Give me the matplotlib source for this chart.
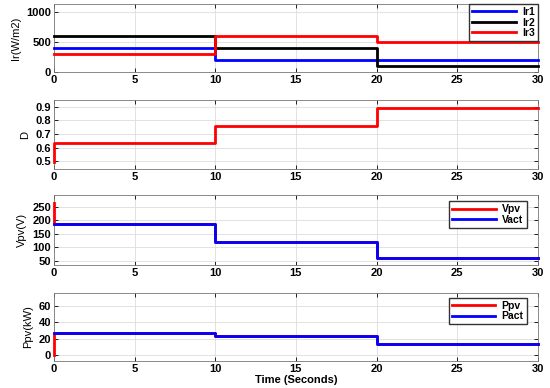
import numpy as np
import matplotlib.pyplot as plt

plt.rcParams['font.family'] = ['Liberation Sans', 'DejaVu Sans']

# time breakpoints (s)
t = [0, 10, 20, 30]
ir1 = [400, 200, 200, 200]
ir2 = [600, 400, 100, 100]
ir3 = [300, 600, 500, 500]

t_start = [0, 0, 10, 20, 30]
duty = [0.49, 0.63, 0.76, 0.89, 0.89]
vpv = [265, 185, 120, 60, 60]
vact = [185, 185, 120, 60, 60]
ppv = [0, 27.3, 23.2, 13.5, 13.5]
pact = [27.3, 27.3, 23.2, 13.5, 13.5]

fig = plt.figure(figsize=(5.5, 3.88), dpi=100)
L, W = 0.098, 0.880
boxes = [(0.814, 0.990), (0.564, 0.742), (0.317, 0.497), (0.070, 0.245)]
axs = [fig.add_axes([L, b, W, tp - b]) for b, tp in boxes]

leg_kw = dict(prop={'size': 7.5, 'weight': 'bold'}, fancybox=False, edgecolor='#333333',
              framealpha=1, handlelength=4.2, labelspacing=0.05, borderpad=0.3,
              handletextpad=0.6)
line_kw = dict(lw=2, drawstyle='steps-post', clip_on=False, zorder=3)

ax = axs[0]
ax.plot(t, ir1, color='blue', label='Ir1', **line_kw)
ax.plot(t, ir2, color='black', label='Ir2', **line_kw)
ax.plot(t, ir3, color='red', label='Ir3', **line_kw)
ax.set_ylim(0, 1130)
ax.set_yticks([0, 500, 1000])
ax.set_ylabel('Ir(W/m2)', fontsize=8)
ax.legend(loc='upper right', borderaxespad=0, **leg_kw).set_zorder(5)

ax = axs[1]
ax.plot(t_start, duty, color='red', **line_kw)
ax.set_ylim(0.44, 0.95)
ax.set_yticks([0.5, 0.6, 0.7, 0.8, 0.9])
ax.set_ylabel('D', fontsize=8)

ax = axs[2]
ax.plot(t_start, vpv, color='red', label='Vpv', **line_kw)
ax.plot(t_start, vact, color='blue', label='Vact', **line_kw)
ax.set_ylim(34, 293)
ax.set_yticks([50, 100, 150, 200, 250])
ax.set_ylabel('Vpv(V)', fontsize=8)
ax.legend(loc='upper right', bbox_to_anchor=(0.977, 0.914), borderaxespad=0, **leg_kw)

ax = axs[3]
ax.plot(t_start, ppv, color='red', label='Ppv', **line_kw)
ax.plot(t_start, pact, color='blue', label='Pact', **line_kw)
ax.set_ylim(-7.3, 76)
ax.set_yticks([0, 20, 40, 60])
ax.set_ylabel('Ppv(kW)', fontsize=8)
ax.set_xlabel('Time (Seconds)', fontsize=8, fontweight='bold', labelpad=1)
ax.legend(loc='upper right', bbox_to_anchor=(0.977, 0.93), borderaxespad=0, **leg_kw)

for ax in axs:
    ax.set_xlim(0, 30)
    ax.set_xticks([0, 5, 10, 15, 20, 25, 30])
    ax.grid(True, color='#dddddd', lw=0.6)
    ax.set_axisbelow(True)
    ax.tick_params(direction='in', top=True, right=True, length=3, width=0.6,
                   pad=2, labelsize=8, colors='black')
    for lab in ax.get_xticklabels() + ax.get_yticklabels():
        lab.set_fontweight('bold')
    for s in ax.spines.values():
        s.set_color('#777777')
        s.set_linewidth(0.6)

fig.savefig('out.png', dpi=100)
